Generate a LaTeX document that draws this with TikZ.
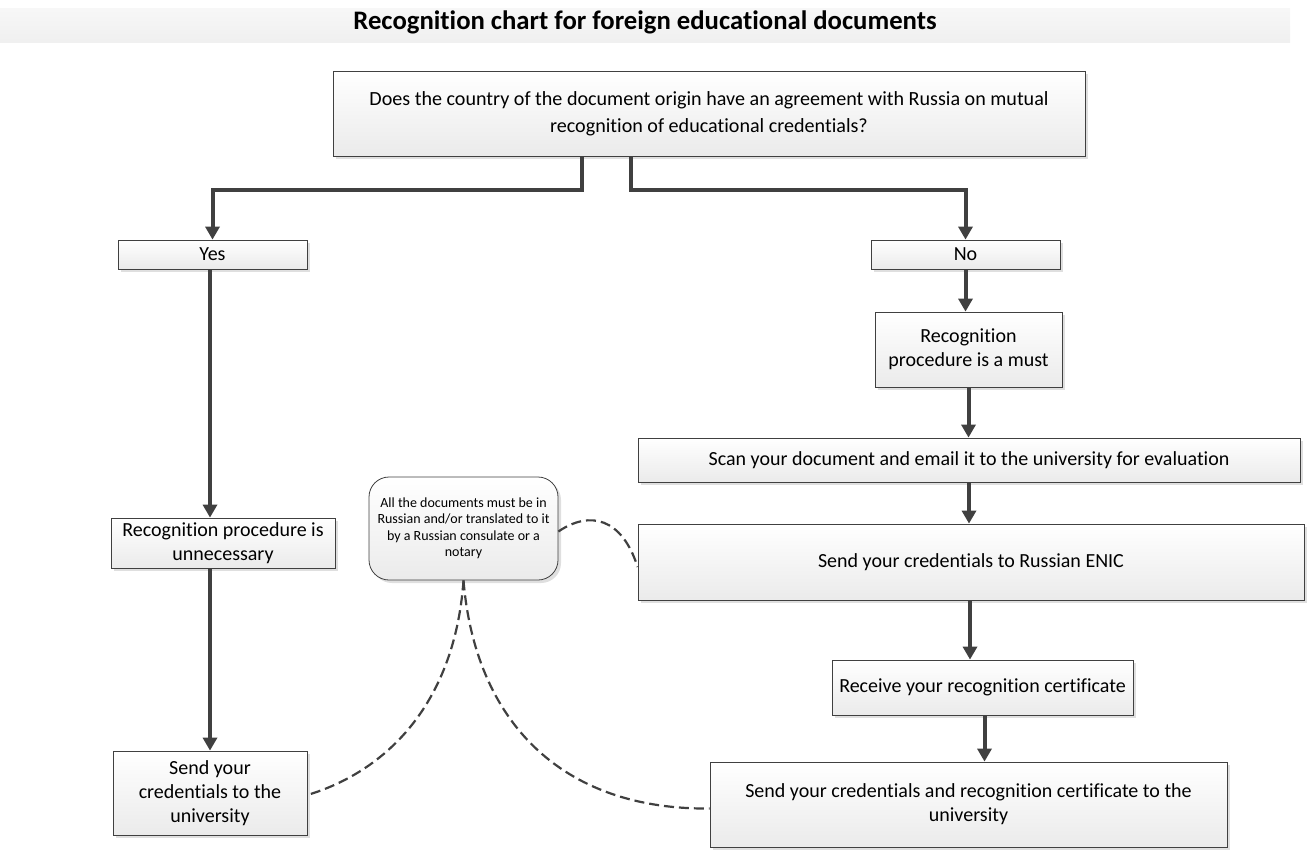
\documentclass[tikz,border=0pt]{standalone}
\usepackage{fontspec}
\setmainfont{Carlito}[Ligatures=NoCommon]
\usetikzlibrary{arrows.meta,shadows,calc}
\definecolor{ln}{HTML}{404040}
\tikzset{
  box/.style={draw=ln, line width=0.8pt, rectangle, align=center, inner sep=2pt,
    top color=white, bottom color=gray!16, middle color=white!92!gray,
    drop shadow={shadow xshift=3pt, shadow yshift=-3pt, fill=gray!50, opacity=0.5}},
  big/.style={font=\fontsize{20}{24}\selectfont},
  small/.style={font=\fontsize{14}{16.5}\selectfont},
  arr/.style={draw=ln, line width=4pt, -{Triangle[length=13pt,width=14pt]}},
  dsh/.style={draw=ln, line width=2.2pt, dash pattern=on 10pt off 5pt}
}
\begin{document}
\begin{tikzpicture}[x=1pt,y=-1pt]
\useasboundingbox (0,0) rectangle (1308,849);
% title band
\node[minimum width=1290pt, minimum height=34pt, top color=gray!6, bottom color=gray!12, inner sep=0pt] (band) at (645,25) {};
\node[font=\bfseries\fontsize{26.7}{30}\selectfont] (title) at (645,22) {Recognition chart for foreign educational documents};
% boxes
\node[box,font=\fontsize{20.1}{27}\selectfont,minimum width=752pt,minimum height=85pt] (top) at (709,113.5)
  {Does the country of the document origin have an agreement with Russia on mutual\\recognition of educational credentials?};
\node[box,big,minimum width=189pt,minimum height=29pt] (yes) at (212.5,254.5) {Yes};
\node[box,big,minimum width=189pt,minimum height=29pt] (no) at (965.5,254.5) {No};
\node[box,big,minimum width=187pt,minimum height=75pt] (must) at (968.5,349.5) {Recognition\\procedure is a must};
\node[box,big,minimum width=662pt,minimum height=44pt] (scan) at (969,460) {Scan your document and email it to the university for evaluation};
\node[box,big,minimum width=666pt,minimum height=76pt] (enic) at (971,562) {Send your credentials to Russian ENIC};
\node[box,big,minimum width=301pt,minimum height=55pt] (recv) at (982.5,687.5) {Receive your recognition certificate};
\node[box,big,minimum width=517pt,minimum height=85pt] (final) at (968.5,804.5) {Send your credentials and recognition certificate to the\\university};
\node[box,big,minimum width=224pt,minimum height=50pt] (unnec) at (223,543) {Recognition procedure is\\unnecessary};
\node[box,big,minimum width=194pt,minimum height=84pt] (sendL) at (210,793) {Send your\\credentials to the\\university};
\node[box,small,rounded corners=20pt,minimum width=189pt,minimum height=103pt] (note) at (463.5,528.5)
  {All the documents must be in\\Russian and/or translated to it\\by a Russian consulate or a\\notary};
% arrows
\draw[arr] ([xshift=-127pt]top.south) -- ++(0,34) -| (yes.north);
\draw[arr] ([xshift=-78pt]top.south) -- ++(0,34) -| (no.north);
\draw[arr] (sendL.north |- yes.south) -- (sendL.north |- unnec.north);
\draw[arr] (sendL.north |- unnec.south) -- (sendL.north);
\draw[arr] (no.south) -- (no.south |- must.north);
\draw[arr] (must.south) -- (must.south |- scan.north);
\draw[arr] (scan.south) -- (scan.south |- enic.north);
\draw[arr] ([xshift=-1pt]enic.south) -- ([xshift=-1pt]enic.south |- recv.north);
\draw[arr] ([xshift=2pt]recv.south) -- ([xshift=2pt]recv.south |- final.north);
% dashed notes
\draw[dsh] ([yshift=-3pt]note.east) .. controls (590,510) and (622,518) .. ([yshift=-5pt]enic.west);
\draw[dsh] (note.south) .. controls (455,700) and (390,770) .. ([yshift=-2pt]sendL.east);
\draw[dsh] (note.south) .. controls (475,720) and (560,810) .. ([yshift=-4pt]final.west);
\end{tikzpicture}
\end{document}
